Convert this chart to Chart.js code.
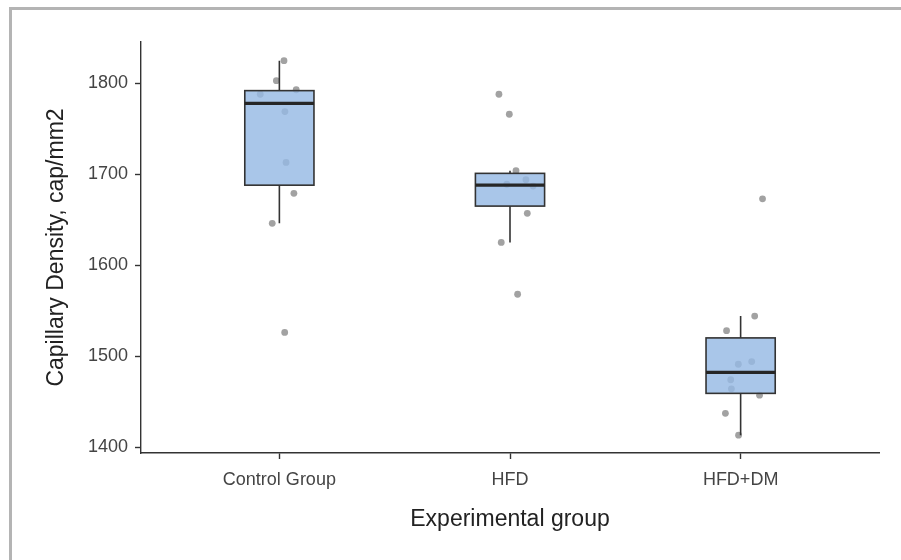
<!DOCTYPE html>
<html>
<head>
<meta charset="utf-8">
<script src="https://cdn.jsdelivr.net/npm/chart.js@4.4.1/dist/chart.umd.min.js"></script>
<style>
  html, body { margin: 0; padding: 0; background: #fff; overflow: hidden; }
  #frame { position: absolute; left: 9px; top: 7px; width: 1000px; height: 700px;
           border: 3px solid #b4b4b4; box-sizing: border-box; }
  #wrap { position: absolute; left: 0; top: 0; width: 901px; height: 560px; }
</style>
</head>
<body>
<div id="frame"></div>
<div id="wrap"><canvas id="chart" width="901" height="560"></canvas></div>
<script>
// Groups and tick labels
const groups = ['Control Group', 'HFD', 'HFD+DM'];
const yTicks = [1400, 1500, 1600, 1700, 1800];

// Box statistics (per group)
const whiskerLow  = [1646, 1625, 1413];
const boxQ1       = [1688, 1665, 1459];
const boxMedian   = [1778, 1688, 1482];
const boxQ3       = [1792, 1701, 1520];
const whiskerHigh = [1825, 1704, 1544];

// Individual observations (jittered points)
const controlVals = [1825, 1803, 1793, 1788, 1769, 1713, 1679, 1646, 1526];
const controlJit  = [0.02, -0.013, 0.073, -0.083, 0.024, 0.029, 0.063, -0.031, 0.023];
const hfdVals     = [1788, 1766, 1704, 1694, 1689, 1687, 1657, 1625, 1568];
const hfdJit      = [-0.048, -0.003, 0.026, 0.069, -0.014, 0.10, 0.075, -0.038, 0.033];
const dmVals      = [1673, 1544, 1528, 1494, 1491, 1474, 1464, 1457, 1437, 1413];
const dmJit       = [0.095, 0.061, -0.061, 0.048, -0.01, -0.043, -0.04, 0.082, -0.066, -0.009];

const points = [];
[[controlVals, controlJit], [hfdVals, hfdJit], [dmVals, dmJit]].forEach(([vals, jit], g) => {
  vals.forEach((v, k) => points.push({ x: g + 1 + jit[k], y: v }));
});

const BOX_HALF = 0.15;
const FONT = 'Liberation Sans, Arial, sans-serif';

const boxPlugin = {
  id: 'boxes',
  afterDatasetsDraw(chart) {
    const { ctx, scales: { x, y } } = chart;
    ctx.save();
    groups.forEach((g, i) => {
      const cx = x.getPixelForValue(i + 1);
      const l = x.getPixelForValue(i + 1 - BOX_HALF);
      const r = x.getPixelForValue(i + 1 + BOX_HALF);
      const q1 = y.getPixelForValue(boxQ1[i]);
      const q3 = y.getPixelForValue(boxQ3[i]);
      const med = y.getPixelForValue(boxMedian[i]);
      const lo = y.getPixelForValue(whiskerLow[i]);
      const hi = y.getPixelForValue(whiskerHigh[i]);
      ctx.strokeStyle = '#333';
      ctx.lineWidth = 1.6;
      ctx.beginPath();
      ctx.moveTo(cx, hi); ctx.lineTo(cx, q3);
      ctx.moveTo(cx, q1); ctx.lineTo(cx, lo);
      ctx.stroke();
      ctx.fillStyle = 'rgba(150,185,228,0.82)';
      ctx.fillRect(l, q3, r - l, q1 - q3);
      ctx.strokeRect(l, q3, r - l, q1 - q3);
      ctx.lineWidth = 3.2;
      ctx.strokeStyle = '#262626';
      ctx.beginPath();
      ctx.moveTo(l, med); ctx.lineTo(r, med);
      ctx.stroke();
    });
    ctx.restore();
  }
};

new Chart(document.getElementById('chart'), {
  type: 'scatter',
  data: {
    datasets: [{
      data: points,
      pointRadius: 3.4,
      pointHoverRadius: 3.4,
      pointBackgroundColor: '#a2a2a2',
      pointBorderWidth: 0
    }]
  },
  plugins: [boxPlugin],
  options: {
    responsive: false,
    animation: false,
    events: [],
    layout: { padding: { top: 42, right: 22, left: 0, bottom: 0 } },
    plugins: { legend: { display: false }, tooltip: { enabled: false } },
    scales: {
      x: {
        type: 'linear',
        min: 0.4, max: 3.6,
        afterBuildTicks: s => { s.ticks = groups.map((g, i) => ({ value: i + 1 })); },
        afterFit: s => { s.height = 107; },
        ticks: {
          callback: v => groups[Math.round(v) - 1],
          color: '#444',
          font: { family: FONT, size: 18 },
          padding: 10,
          maxRotation: 0,
          autoSkip: false
        },
        grid: { drawOnChartArea: false, drawTicks: true, tickLength: 6, color: '#333', tickWidth: 1.4 },
        border: { display: true, color: '#333', width: 1.4 },
        title: {
          display: true,
          text: 'Experimental group',
          color: '#222',
          font: { family: FONT, size: 23 },
          padding: { top: 0, bottom: 27 }
        }
      },
      y: {
        type: 'linear',
        min: 1393.4, max: 1845.5,
        afterBuildTicks: s => { s.ticks = yTicks.map(v => ({ value: v })); },
        afterFit: s => { s.width = 141; },
        ticks: {
          callback: v => String(v),
          color: '#444',
          font: { family: FONT, size: 18 },
          padding: 7
        },
        grid: { drawOnChartArea: false, drawTicks: true, tickLength: 6, color: '#333', tickWidth: 1.4 },
        border: { display: true, color: '#333', width: 1.4 },
        title: {
          display: true,
          text: 'Capillary Density, cap/mm2',
          color: '#222',
          font: { family: FONT, size: 23 },
          padding: { top: 43, bottom: 0 }
        }
      }
    }
  }
});
</script>
</body>
</html>
